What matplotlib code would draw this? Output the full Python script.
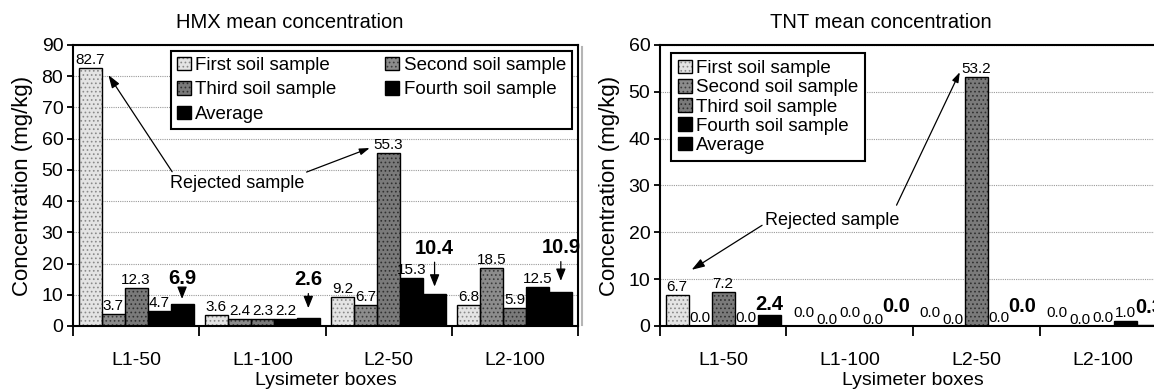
import numpy as np
import matplotlib.pyplot as plt
from matplotlib.lines import Line2D
from matplotlib.patches import Patch
from matplotlib.ticker import FixedLocator, MultipleLocator

plt.rcParams['font.family'] = ['Liberation Sans', 'DejaVu Sans']
plt.rcParams['hatch.linewidth'] = 0.7

boxes = ["L1-50", "L1-100", "L2-50", "L2-100"]
series = ["First soil sample", "Second soil sample", "Third soil sample",
          "Fourth soil sample", "Average"]

# HMX, mg/kg
hmx_first = [82.7, 3.6, 9.2, 6.8]
hmx_second = [3.7, 2.4, 6.7, 18.5]
hmx_third = [12.3, 2.3, 55.3, 5.9]
hmx_fourth = [4.7, 2.2, 15.3, 12.5]
hmx_average = [6.9, 2.6, 10.4, 10.9]

# TNT, mg/kg
tnt_first = [6.7, 0.0, 0.0, 0.0]
tnt_second = [0.0, 0.0, 0.0, 0.0]
tnt_third = [7.2, 0.0, 53.2, 0.0]
tnt_fourth = [0.0, 0.0, 0.0, 1.0]
tnt_average = [2.4, 0.0, 0.0, 0.3]

# face colour, hatch, hatch colour for each series
STYLES = [
    ("#e4e4e4", "....", "#8a8a8a"),
    ("#8c8c8c", "....", "#3c3c3c"),
    ("#7a7a7a", "....", "#303030"),
    ("black", None, "black"),
    ("black", None, "black"),
]
BAR_W = 0.182


def draw_bars(ax, values, nudge=None):
    x = np.arange(len(boxes))
    handles = []
    for i, (vals, (face, hatch, hcol)) in enumerate(zip(values, STYLES)):
        pos = x + (i - 2) * BAR_W
        ax.bar(pos, vals, BAR_W, color=face, hatch=hatch, edgecolor=hcol,
               linewidth=0, zorder=2)
        ax.bar(pos, vals, BAR_W, fill=False, edgecolor="black",
               linewidth=1.0, zorder=3)
        handles.append((Patch(facecolor=face, hatch=hatch, edgecolor=hcol, linewidth=0),
                        Patch(fill=False, edgecolor="black", linewidth=1.0)))
        if i == 4:
            continue
        for j, (p, v) in enumerate(zip(pos, vals)):
            dy = 1 + (nudge[j][i] if nudge else 0)
            ax.annotate(f"{v:.1f}", xy=(p, v), xytext=(0, dy),
                        textcoords="offset pixels", ha="center", va="bottom",
                        fontsize=11, zorder=5)
    return handles


def style_axes(ax, ymax):
    ax.set_xlim(-0.5, 3.5)
    ax.set_ylim(0, ymax)
    ax.yaxis.set_major_locator(MultipleLocator(10))
    ax.xaxis.set_major_locator(FixedLocator(range(len(boxes))))
    ax.set_xticklabels(boxes)
    ax.xaxis.set_minor_locator(FixedLocator(np.arange(-0.5, 4.0, 1.0)))
    ax.tick_params(axis="x", which="major", length=0, pad=19, labelsize=14)
    ax.tick_params(axis="x", which="minor", length=7, width=1.3, direction="out")
    ax.tick_params(axis="y", length=4, width=1.3, direction="out", labelsize=14, pad=3)
    ax.yaxis.grid(True, linestyle=(0, (1, 1)), color="#9a9a9a", linewidth=0.8)
    ax.set_axisbelow(True)
    for s in ax.spines.values():
        s.set_linewidth(1.5)
    ax.set_xlabel("Lysimeter boxes", fontsize=14)
    ax.xaxis.set_label_coords(0.5, -0.163)
    ax.set_ylabel("Concentration (mg/kg)", fontsize=16)
    ax.yaxis.set_label_coords(-0.079, 0.5)


fig = plt.figure(figsize=(11.54, 3.89), dpi=100)
ax1 = fig.add_axes([73 / 1154, 63 / 389, 505 / 1154, 281 / 389])
ax2 = fig.add_axes([660 / 1154, 63 / 389, 506 / 1154, 281 / 389])

legend_kw = dict(loc="upper left", borderaxespad=0, fontsize=13.5, frameon=True,
                 fancybox=False, edgecolor="black", framealpha=1,
                 handlelength=0.75, handleheight=0.75, handletextpad=0.25)
arrow_style = "-|>,head_length=0.6,head_width=0.2"

# --- HMX panel ---
h1 = draw_bars(ax1, [hmx_first, hmx_second, hmx_third, hmx_fourth, hmx_average])
style_axes(ax1, 90)
avg_rise = [26, 38, 45, 44]
avg_gap = [4, 7, 5, 8]
for j, v in enumerate(hmx_average):
    ax1.annotate(f"{v:.1f}", xy=(j + 2 * BAR_W, v), xytext=(0, avg_rise[j]),
                 textcoords="offset pixels", ha="center", va="center",
                 fontsize=14.5, fontweight="bold", zorder=5,
                 arrowprops=dict(arrowstyle="-|>,head_length=0.5,head_width=0.2",
                                 color="black", lw=0.9, shrinkA=1, shrinkB=avg_gap[j]))
ax1.annotate("Rejected sample", xy=(-0.22, 80.4), xytext=(0.80, 45.8),
             ha="center", va="center", fontsize=13,
             arrowprops=dict(arrowstyle=arrow_style, color="black", lw=0.9,
                             shrinkA=0, shrinkB=0, relpos=(0.03, 1.0)))
ax1.annotate("", xy=(1.85, 57.0), xytext=(1.35, 49.3),
             arrowprops=dict(arrowstyle=arrow_style, color="black", lw=0.9, shrinkA=0, shrinkB=0))
order = [0, 2, 4, 1, 3]
leg1 = ax1.legend([h1[k] for k in order], [series[k] for k in order], ncol=2,
                  bbox_to_anchor=(0.194, 0.979), labelspacing=0.38,
                  columnspacing=2.6, borderpad=0.3, **legend_kw)
leg1.get_frame().set_linewidth(1.5)

# --- TNT panel ---
tnt_nudge = [[0, 0, 0, 0], [5, -2, 5, -2], [5, -2, 0, 0], [5, -2, 0, 0]]
h2 = draw_bars(ax2, [tnt_first, tnt_second, tnt_third, tnt_fourth, tnt_average], tnt_nudge)
style_axes(ax2, 60)
ax2.spines["right"].set_visible(False)
tnt_rise = [10, 20, 20, 17]
for j, v in enumerate(tnt_average):
    ax2.annotate(f"{v:.1f}", xy=(j + 2 * BAR_W, v), xytext=(0, tnt_rise[j]),
                 textcoords="offset pixels", ha="center", va="center",
                 fontsize=14.5, fontweight="bold", zorder=5, annotation_clip=False)
ax2.annotate("Rejected sample", xy=(-0.25, 12.0), xytext=(0.86, 22.6),
             ha="center", va="center", fontsize=13,
             arrowprops=dict(arrowstyle=arrow_style, color="black", lw=0.9,
                             shrinkA=0, shrinkB=0, relpos=(0.0, 0.3)))
ax2.annotate("", xy=(1.87, 54.2), xytext=(1.37, 25.8),
             arrowprops=dict(arrowstyle=arrow_style, color="black", lw=0.9, shrinkA=0, shrinkB=0))
leg2 = ax2.legend(h2, series, bbox_to_anchor=(0.0217, 0.9715),
                  labelspacing=0.1, borderpad=0.35, **legend_kw)
leg2.get_frame().set_linewidth(1.5)

fig.text(290 / 1154, 1 - 22 / 389, "HMX mean concentration", ha="center", va="center", fontsize=14.5)
fig.text(881 / 1154, 1 - 22 / 389, "TNT mean concentration", ha="center", va="center", fontsize=14.5)
fig.add_artist(Line2D([582 / 1154, 582 / 1154], [1 - 47 / 389, 1 - 325 / 389],
                      color="#b5b5b5", linewidth=1.5))

fig.savefig("out.png", dpi=100)
